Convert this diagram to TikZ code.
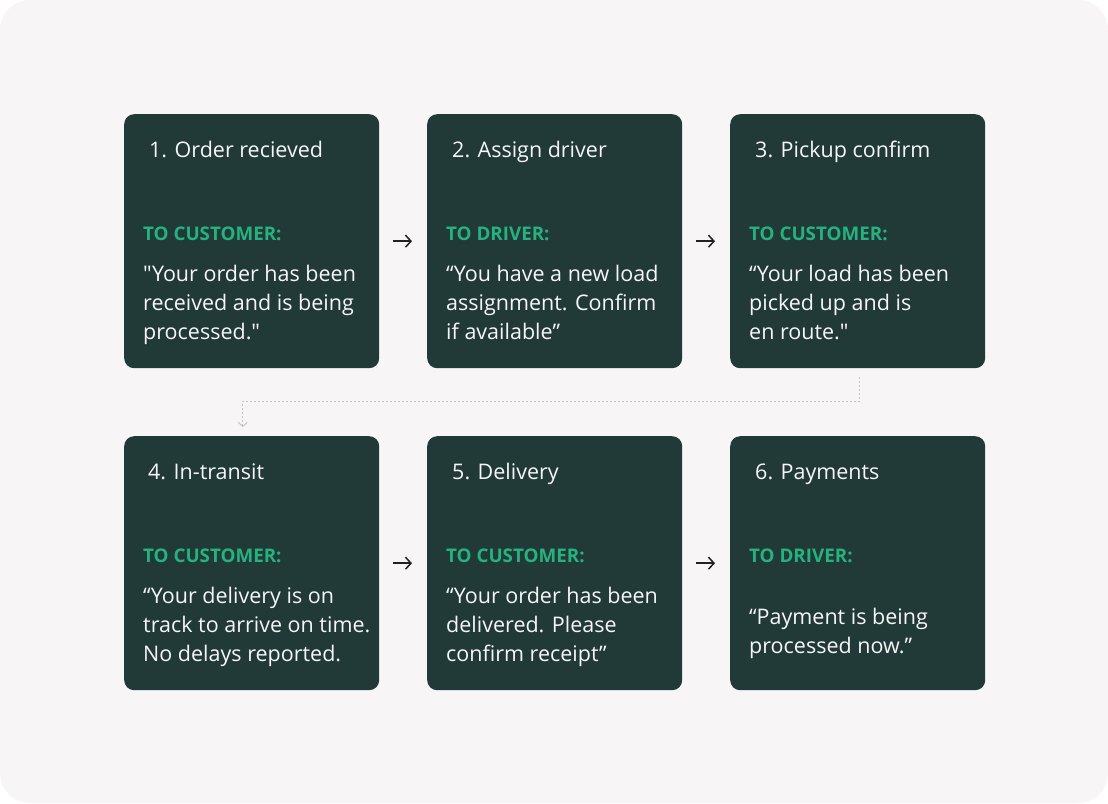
\documentclass[tikz,border=0pt]{standalone}
\usepackage{fontspec}
\setmainfont{Open Sans}[Ligatures=TeXOff]
\usetikzlibrary{arrows.meta}
\definecolor{bgc}{HTML}{F7F5F6}
\definecolor{cardc}{HTML}{213A38}
\definecolor{accentc}{HTML}{25B27E}
\definecolor{txtc}{HTML}{F6F6F6}
\definecolor{dotc}{HTML}{C4C4C4}
\definecolor{arrc}{HTML}{222222}
\begin{document}
\begin{tikzpicture}[x=1pt,y=1pt,
 card/.style={fill=cardc, rounded corners=10pt, minimum width=255pt, minimum height=254pt, inner sep=0pt, anchor=north west},
 ttl/.style={anchor=base west, text=txtc, font=\fontsize{21.5}{24}\selectfont, inner sep=0pt},
 sub/.style={anchor=base west, text=accentc, font=\bfseries\fontsize{18.8}{22}\selectfont, inner sep=0pt},
 body/.style={anchor=base west, text=txtc, font=\fontsize{21.5}{29}\selectfont, align=left, inner sep=0pt},
 flow/.style={-{Straight Barb[length=5.5pt,width=12pt]}, line width=1.5pt, arrc, shorten <=14pt, shorten >=15pt},
 dotcon/.style={dash pattern=on 2pt off 2pt, dotc, line width=1pt, -{Straight Barb[length=4pt,width=9pt]}}
]
\fill[white] (0,0) rectangle (1108,-803);
\useasboundingbox (0,0) rectangle (1108,-803);
\fill[bgc, rounded corners=30pt] (0,0) rectangle (1108,-803);

% cards
\node[card] (b1) at (124,-114) {};
\node[card] (b2) at (427,-114) {};
\node[card] (b3) at (730,-114) {};
\node[card] (b4) at (124,-436) {};
\node[card] (b5) at (427,-436) {};
\node[card] (b6) at (730,-436) {};

% titles
\node[ttl] (t1) at ([shift={(25,-43.5)}]b1.north west) {1. Order recieved};
\node[ttl] (t2) at ([shift={(25,-43.5)}]b2.north west) {2. Assign driver};
\node[ttl] (t3) at ([shift={(25,-43.5)}]b3.north west) {3. Pickup confirm};
\node[ttl] (t4) at ([shift={(24,-43.5)}]b4.north west) {4. In-transit};
\node[ttl] (t5) at ([shift={(25,-43.5)}]b5.north west) {5. Delivery};
\node[ttl] (t6) at ([shift={(25,-43.5)}]b6.north west) {6. Payments};

% subtitles
\node[sub] (s1) at ([shift={(19,-126)}]b1.north west) {TO CUSTOMER:};
\node[sub] (s2) at ([shift={(19,-126)}]b2.north west) {TO DRIVER:};
\node[sub] (s3) at ([shift={(19,-126)}]b3.north west) {TO CUSTOMER:};
\node[sub] (s4) at ([shift={(19,-126)}]b4.north west) {TO CUSTOMER:};
\node[sub] (s5) at ([shift={(19,-126)}]b5.north west) {TO CUSTOMER:};
\node[sub] (s6) at ([shift={(19,-126)}]b6.north west) {TO DRIVER:};

% bodies (base anchor = baseline of last line)
\node[body] (m1) at ([shift={(19,-225.5)}]b1.north west) {"Your order has been\\received and is being\\processed."};
\node[body] (m2) at ([shift={(19,-225.5)}]b2.north west) {“You have a new load\\assignment. Confirm\\if available”};
\node[body] (m3) at ([shift={(19,-225.5)}]b3.north west) {“Your load has been\\picked up and is\\en route."};
\node[body] (m4) at ([shift={(19,-225.5)}]b4.north west) {“Your delivery is on\\track to arrive on time.\\No delays reported.};
\node[body] (m5) at ([shift={(19,-225.5)}]b5.north west) {“Your order has been\\delivered. Please\\confirm receipt”};
\node[body] (m6) at ([shift={(19,-217.5)}]b6.north west) {“Payment is being\\processed now.”};

% connectors
\draw[flow] (b1.east) -- (b2.west);
\draw[flow] (b2.east) -- (b3.west);
\draw[flow] (b4.east) -- (b5.west);
\draw[flow] (b5.east) -- (b6.west);
\coordinate (d0) at ([shift={(2,-9)}]b3.south);
\coordinate (d1) at ([shift={(-9,9)}]b4.north);
\draw[dotcon] (d0) -- ++(0,-24) -| (d1);
\end{tikzpicture}
\end{document}
